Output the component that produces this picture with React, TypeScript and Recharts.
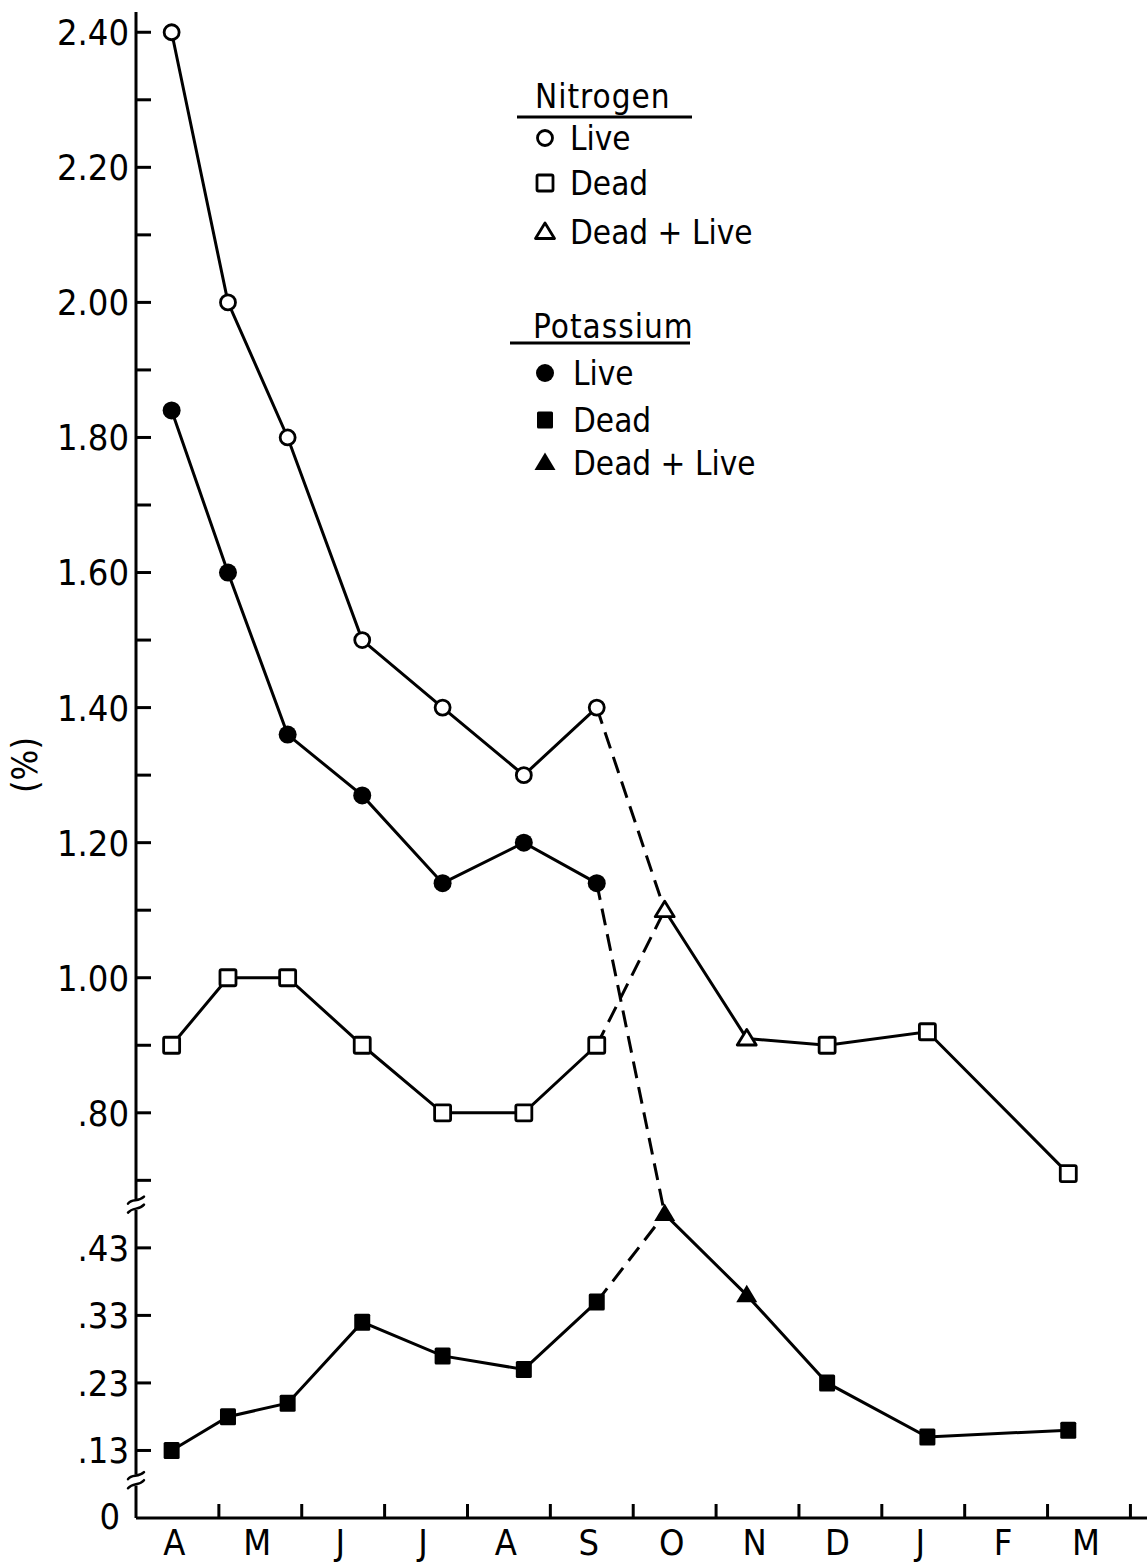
import React from "react";
import {
  LineChart,
  Line,
  XAxis,
  YAxis,
  Legend,
  ReferenceLine,
  ReferenceDot,
} from "recharts";

const FONT = '"DejaVu Sans Condensed", "Liberation Sans Narrow", "DejaVu Sans", sans-serif';
const INK = "#000";
const LINE_W = 3;

// sampling dates, in months after 1 April (month boundaries are whole numbers)
const sampleDates = [0.43, 1.11, 1.83, 2.73, 3.7, 4.68, 5.56, 6.38, 7.37, 8.34, 9.55, 11.25];
const monthLabels = ["A", "M", "J", "J", "A", "S", "O", "N", "D", "J", "F", "M"];

// Nitrogen (%) - upper scale
const nLive = [2.4, 2.0, 1.8, 1.5, 1.4, 1.3, 1.4]; // Apr..Sep
const nDead = [0.9, 1.0, 1.0, 0.9, 0.8, 0.8, 0.9]; // Apr..Sep
const nDeadLive = [1.1, 0.91]; // Oct, Nov
const nDeadLate = [0.9, 0.92, 0.71]; // Dec, Jan, Mar

// Potassium (%) - live on the upper scale, dead on the broken lower scale
const kLive = [1.84, 1.6, 1.36, 1.27, 1.14, 1.2, 1.14];
const kDead = [0.13, 0.18, 0.2, 0.32, 0.27, 0.25, 0.35];
const kDeadLive = [0.48, 0.36];
const kDeadLate = [0.23, 0.15, 0.16];

// axis labels
const upperTickLabels = ["2.40", "2.20", "2.00", "1.80", "1.60", "1.40", "1.20", "1.00", ".80"];
const upperMinorTicks = [2.3, 2.1, 1.9, 1.7, 1.5, 1.3, 1.1, 0.9, 0.7];
const lowerTickLabels = [".43", ".33", ".23", ".13"];

// lower scale is drawn shifted up: .43 sits where .60 would be
const LOWER_SHIFT = 0.17;
const Y_MIN = 0.2;
const Y_MAX = 2.43;
const BREAKS = [0.664, 0.256];

type Pt = { x: number; v: number; kind?: string };
const toPoints = (vals: number[], first: number, shift = 0, kind?: string): Pt[] =>
  vals.map((v, i) => ({ x: sampleDates[first + i], v: +(v + shift).toFixed(3), kind }));

const nLivePts = toPoints(nLive, 0);
const nDeadPts = toPoints(nDead, 0);
const nTailPts = [...toPoints(nDeadLive, 7, 0, "deadLive"), ...toPoints(nDeadLate, 9, 0, "dead")];
const nLiveDash = [nLivePts[6], nTailPts[0]];
const nDeadDash = [nDeadPts[6], nTailPts[0]];

const kLivePts = toPoints(kLive, 0);
const kDeadPts = toPoints(kDead, 0, LOWER_SHIFT);
const kTailPts = [
  ...toPoints(kDeadLive, 7, LOWER_SHIFT, "deadLive"),
  ...toPoints(kDeadLate, 9, LOWER_SHIFT, "dead"),
];
const kLiveDash = [kLivePts[6], kTailPts[0]];
const kDeadDash = [kDeadPts[6], kTailPts[0]];

const tickLabelByPlot = new Map<string, string>();
upperTickLabels.forEach((l) => tickLabelByPlot.set(parseFloat(l).toFixed(2), l));
lowerTickLabels.forEach((l) => tickLabelByPlot.set((parseFloat(l) + LOWER_SHIFT).toFixed(2), l));
tickLabelByPlot.set(Y_MIN.toFixed(2), "0");
const yTicks = [
  ...upperTickLabels.map((l) => parseFloat(l)),
  ...upperMinorTicks,
  ...lowerTickLabels.map((l) => +(parseFloat(l) + LOWER_SHIFT).toFixed(2)),
  Y_MIN,
];
const xTicks = [...monthLabels.map((_, i) => i + 1), ...monthLabels.map((_, i) => i + 0.5)];

const Marker = ({ shape, cx, cy }: { shape: string; cx: number; cy: number }) => {
  switch (shape) {
    case "openCircle":
      return <circle cx={cx} cy={cy} r={7.5} fill="#fff" stroke={INK} strokeWidth={2.8} />;
    case "filledCircle":
      return <circle cx={cx} cy={cy} r={9} fill={INK} />;
    case "openSquare":
      return (
        <rect x={cx - 8} y={cy - 8} width={16} height={16} rx={1.5}
          fill="#fff" stroke={INK} strokeWidth={2.8} />
      );
    case "filledSquare":
      return <rect x={cx - 8} y={cy - 8.5} width={16} height={17} rx={1.5} fill={INK} />;
    case "openTriangle":
      return (
        <path d={`M${cx},${cy - 9} L${cx + 9.5},${cy + 6.5} L${cx - 9.5},${cy + 6.5} Z`}
          fill="#fff" stroke={INK} strokeWidth={2.8} strokeLinejoin="round" />
      );
    case "filledTriangle":
      return <path d={`M${cx},${cy - 10.5} L${cx + 10.5},${cy + 7} L${cx - 10.5},${cy + 7} Z`} fill={INK} />;
    default:
      return null;
  }
};

const dotOf = (shape: string) => (p: any) =>
  <Marker key={`d-${p.index}`} shape={shape} cx={p.cx} cy={p.cy} />;

const tailDot = (open: boolean) => (p: any) => {
  const base = p.payload.kind === "deadLive" ? "Triangle" : "Square";
  return <Marker key={`t-${p.index}`} shape={(open ? "open" : "filled") + base} cx={p.cx} cy={p.cy} />;
};

const YTick = (props: any) => {
  const { x, y, payload } = props;
  const key = Number(payload.value).toFixed(2);
  const label = tickLabelByPlot.get(key);
  const isZero = key === Y_MIN.toFixed(2);
  return (
    <g>
      {!isZero && <line x1={x} x2={x + 15} y1={y} y2={y} stroke={INK} strokeWidth={3} />}
      {label && (
        <text x={isZero ? x - 16 : x - 7} y={isZero ? y - 2 : y} dy="0.36em" textAnchor="end"
          fontSize={36} fontFamily={FONT} fill={INK}>
          {label}
        </text>
      )}
    </g>
  );
};

const XTick = (props: any) => {
  const { x, y, payload } = props;
  const v = Number(payload.value);
  if (Number.isInteger(v)) {
    return <line x1={x} x2={x} y1={y} y2={y - 14} stroke={INK} strokeWidth={3} />;
  }
  return (
    <text x={x - 3} y={y + 37} textAnchor="middle" fontSize={36} fontFamily={FONT} fill={INK}>
      {monthLabels[Math.floor(v)]}
    </text>
  );
};

const AxisBreak = (props: any) => {
  const { cx, cy } = props;
  return (
    <g fill="none" stroke={INK} strokeWidth={2.5} strokeLinecap="round">
      <path d={`M${cx - 8},${cy - 1} C${cx - 4},${cy - 7} ${cx + 2},${cy - 2} ${cx + 8},${cy - 8}`} />
      <path d={`M${cx - 8},${cy + 8} C${cx - 3},${cy + 2} ${cx + 3},${cy + 6} ${cx + 8},${cy}`} />
    </g>
  );
};

const legendTitles = ["Nitrogen", "Potassium"];
const legendNames = ["Live", "Dead", "Dead + Live"];

const LegendBox = () => {
  const shapes = ["Circle", "Square", "Triangle"];
  const blocks = [
    { title: legendTitles[0], open: true, tx: 35, ty: 38, ul: [17, 192, 47], rows: [68, 113, 162], textX: 70 },
    { title: legendTitles[1], open: false, tx: 33, ty: 268, ul: [10, 190, 273], rows: [303, 350, 393], textX: 73 },
  ];
  return (
    <svg width={300} height={430} style={{ overflow: "visible" }}>
      {blocks.map((b) => (
        <g key={b.title}>
          <text x={b.tx} y={b.ty} fontSize={33} fontFamily={FONT} fill={INK} letterSpacing={1}>
            {b.title}
          </text>
          <line x1={b.ul[0]} x2={b.ul[1]} y1={b.ul[2]} y2={b.ul[2]} stroke={INK} strokeWidth={3} />
          {legendNames.map((name, i) => (
            <g key={name}>
              <Marker shape={(b.open ? "open" : "filled") + shapes[i]} cx={45} cy={b.rows[i]} />
              <text x={b.textX} y={b.rows[i] + 12} fontSize={33} fontFamily={FONT} fill={INK}>{name}</text>
            </g>
          ))}
        </g>
      ))}
    </svg>
  );
};

export default function App() {
  return (
    <div style={{ position: "absolute", left: 0, top: 0, background: "#fff" }}>
      <LineChart width={1147} height={1562} margin={{ top: 12, right: 0, bottom: 0, left: 0 }}>
        <XAxis
          type="number"
          dataKey="x"
          domain={[0, 12.2]}
          allowDataOverflow
          ticks={xTicks}
          interval={0}
          tick={(p: any) => <XTick {...p} />}
          tickSize={0}
          tickMargin={0}
          tickLine={false}
          axisLine={{ stroke: INK, strokeWidth: 3 }}
          height={44}
        />
        <YAxis
          type="number"
          dataKey="v"
          domain={[Y_MIN, Y_MAX]}
          allowDataOverflow
          ticks={yTicks}
          interval={0}
          tick={(p: any) => <YTick {...p} />}
          tickSize={0}
          tickMargin={0}
          tickLine={false}
          axisLine={false}
          width={136}
          label={{
            value: "(%)",
            angle: -90,
            position: "insideLeft",
            offset: 24,
            style: { textAnchor: "middle", fontSize: 36, fontFamily: FONT, fill: INK },
          }}
        />
        <ReferenceLine segment={[{ x: 0, y: Y_MAX }, { x: 0, y: BREAKS[0] + 0.008 }]}
          stroke={INK} strokeWidth={3} ifOverflow="visible" />
        <ReferenceLine segment={[{ x: 0, y: BREAKS[0] - 0.008 }, { x: 0, y: BREAKS[1] + 0.008 }]}
          stroke={INK} strokeWidth={3} ifOverflow="visible" />
        <ReferenceLine segment={[{ x: 0, y: BREAKS[1] - 0.008 }, { x: 0, y: Y_MIN }]}
          stroke={INK} strokeWidth={3} ifOverflow="visible" />
        {BREAKS.map((b) => (
          <ReferenceDot key={b} x={0} y={b} r={8} shape={AxisBreak} ifOverflow="visible" />
        ))}

        <Line data={nLiveDash} dataKey="v" stroke={INK} strokeWidth={LINE_W} strokeDasharray="17 9"
          dot={false} activeDot={false} isAnimationActive={false} />
        <Line data={nDeadDash} dataKey="v" stroke={INK} strokeWidth={LINE_W} strokeDasharray="17 9"
          dot={false} activeDot={false} isAnimationActive={false} />
        <Line data={kLiveDash} dataKey="v" stroke={INK} strokeWidth={LINE_W} strokeDasharray="17 9"
          dot={false} activeDot={false} isAnimationActive={false} />
        <Line data={kDeadDash} dataKey="v" stroke={INK} strokeWidth={LINE_W} strokeDasharray="17 9"
          dot={false} activeDot={false} isAnimationActive={false} />

        <Line data={nLivePts} dataKey="v" stroke={INK} strokeWidth={LINE_W}
          dot={dotOf("openCircle")} activeDot={false} isAnimationActive={false} />
        <Line data={nDeadPts} dataKey="v" stroke={INK} strokeWidth={LINE_W}
          dot={dotOf("openSquare")} activeDot={false} isAnimationActive={false} />
        <Line data={nTailPts} dataKey="v" stroke={INK} strokeWidth={LINE_W}
          dot={tailDot(true)} activeDot={false} isAnimationActive={false} />
        <Line data={kLivePts} dataKey="v" stroke={INK} strokeWidth={LINE_W}
          dot={dotOf("filledCircle")} activeDot={false} isAnimationActive={false} />
        <Line data={kDeadPts} dataKey="v" stroke={INK} strokeWidth={LINE_W}
          dot={dotOf("filledSquare")} activeDot={false} isAnimationActive={false} />
        <Line data={kTailPts} dataKey="v" stroke={INK} strokeWidth={LINE_W}
          dot={tailDot(false)} activeDot={false} isAnimationActive={false} />

        <Legend
          verticalAlign="middle"
          align="center"
          layout="horizontal"
          content={() => <LegendBox />}
          wrapperStyle={{ left: 500, top: 70, width: 300, height: 430 }}
        />
      </LineChart>
    </div>
  );
}
